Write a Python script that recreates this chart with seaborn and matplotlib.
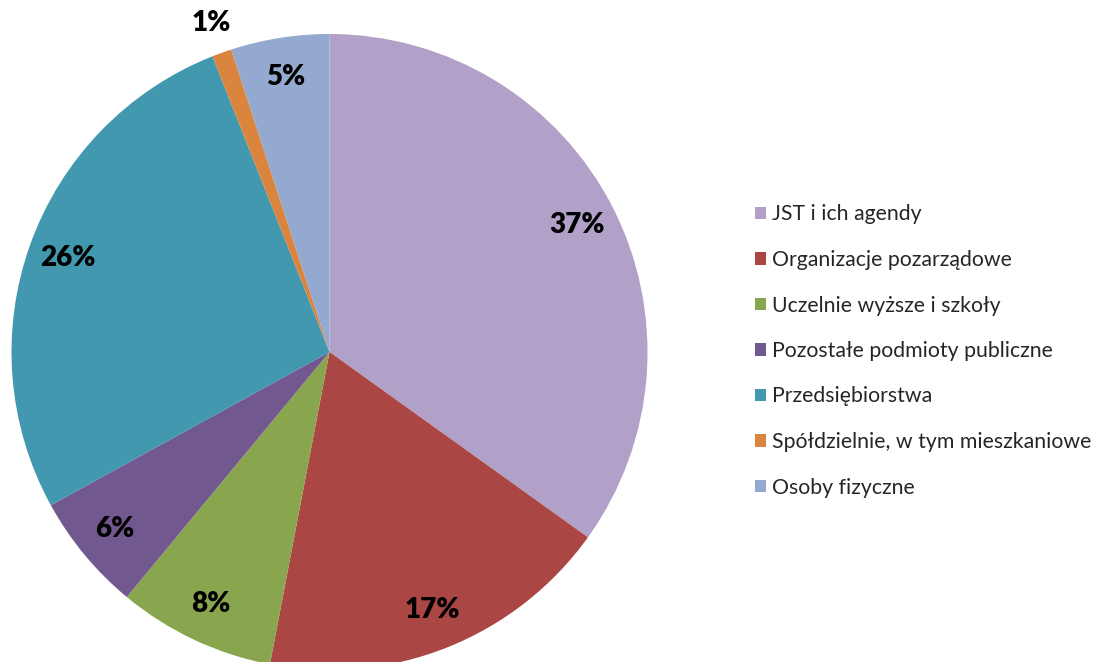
import matplotlib.pyplot as plt
import seaborn as sns
import numpy as np

# dane
kategorie = ['JST i ich agendy', 'Organizacje pozarządowe', 'Uczelnie wyższe i szkoły',
             'Pozostałe podmioty publiczne', 'Przedsiębiorstwa',
             'Spółdzielnie, w tym mieszkaniowe', 'Osoby fizyczne']
udzialy = [34.9, 18.1, 8.0, 6.0, 27.0, 1.0, 5.0]
etykiety = ['37%', '17%', '8%', '6%', '26%', '1%', '5%']
kolory = ['#B1A0C7', '#AA4643', '#89A54E', '#71588F', '#4198AF', '#DB843D', '#93A9CF']

sns.set_theme(style="white")
plt.rcParams['font.family'] = ['Lato', 'DejaVu Sans']

fig = plt.figure(figsize=(11.05, 6.62), dpi=100)
W, H = 1105, 662
cx, cy, r = 329.5, 352, 318
ax = fig.add_axes([(cx - r) / W, (H - cy - r) / H, 2 * r / W, 2 * r / H])

wedges, _ = ax.pie(udzialy, colors=kolory, startangle=90, counterclock=False,
                   wedgeprops={'linewidth': 0})
ax.set_xlim(-1, 1)
ax.set_ylim(-1, 1)
ax.set_aspect('equal')

# etykiety procentowe
for w, txt in zip(wedges, etykiety):
    ang = np.deg2rad((w.theta1 + w.theta2) / 2)
    dist = 1.10 if txt == '1%' else 0.875
    ax.text(dist * np.cos(ang), dist * np.sin(ang), txt, ha='center', va='center',
            fontsize=20, fontweight='heavy', color='black')

fig.legend(wedges, kategorie, loc='center left', bbox_to_anchor=(746 / W, 1 - 351 / H),
           frameon=False, fontsize=15.3, handlelength=0.55, handleheight=0.55,
           handletextpad=0.25, labelspacing=1.2, borderaxespad=0)

plt.savefig('out.png', dpi=100)
